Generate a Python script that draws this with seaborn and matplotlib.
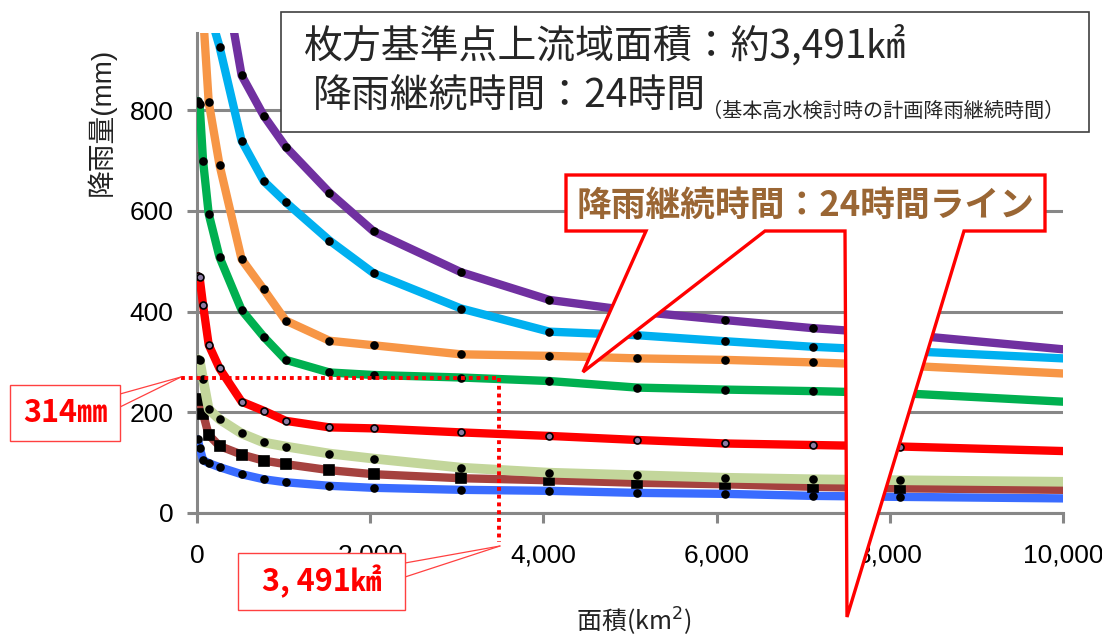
"""
Area-rainfall curves for the Hirakata reference point, with the 24-hour line called out.
"""

import numpy as np
import pandas as pd
import matplotlib
matplotlib.use('Agg')
import matplotlib.pyplot as plt
import seaborn as sns
from matplotlib.patches import Polygon, Rectangle
from matplotlib.lines import Line2D

# Catchment area (km2) of every point on the curves.
area = [10, 30, 70, 135, 260, 515, 770, 1025, 1530, 2040, 3050, 4070, 5080, 6100, 7110, 8120, 10000]

# Rainfall (mm), top curve first.
rain_purple = [1800, 1600, 1450, 1300, 1120, 869, 789, 727, 636, 559, 478, 423, 400, 383, 367, 355, 325]
rain_skyblue = [1300, 1200, 1100, 1000, 926, 739, 659, 617, 541, 476, 406, 360, 353, 341, 330, 322, 307]
rain_orange = [1200, 1100, 990, 816, 691, 504, 444, 382, 342, 333, 315, 312, 307, 304, 299, 293, 277]
rain_green = [818, 812, 699, 594, 508, 403, 350, 304, 279, 274, 269, 262, 249, 245, 242, 238, 221]
rain_red = [470, 468, 413, 334, 287, 221, 203, 183, 170, 168, 160, 153, 145, 138, 135, 132, 123]
rain_palegreen = [305, 304, 266, 206, 186, 158, 140, 132, 118, 108, 90, 80, 75, 70, 67, 65, 62]
rain_brown = [226, 225, 197, 155, 133, 116, 104, 97, 85, 77, 69, 65, 60, 57, 52, 49, 46]
rain_blue = [146, 130, 105, 99, 91, 77, 67, 61, 54, 50, 46, 44, 40, 38, 34, 32, 29]

x_ticks = [0, 2000, 4000, 6000, 8000, 10000]
x_tick_labels = ['0', '2,000', '4,000', '6,000', '8,000', '10,000']
y_ticks = [0, 200, 400, 600, 800]

# Point picked out on the 24-hour curve.
target_area = 3491
target_rain = 268

W, H = 1102, 638


def fx(x):
    return x / W


def fy(y):
    return 1 - y / H


sns.set_style('white')
plt.rcParams['font.family'] = ['Noto Sans CJK JP', 'DejaVu Sans']
num_font = ['Liberation Sans Narrow', 'Liberation Sans', 'DejaVu Sans']
label_font = ['Liberation Sans', 'Noto Sans CJK JP']

fig = plt.figure(figsize=(W / 100, H / 100), dpi=100)
ax = fig.add_axes([fx(197), fy(513), fx(1063) - fx(197), fy(33) - fy(513)])

# One call per curve so each can keep its own marker look.
curves = [
    (rain_blue, '#3A6CFF', 'o', 'black', 5, 6),
    (rain_brown, '#A5423F', 's', 'black', 6.5, 6),
    (rain_palegreen, '#C3D69B', 'o', 'black', 5, 7),
    (rain_red, '#FF0000', 'o', '#8C7BA3', 5, 6),
    (rain_green, '#00B050', 'o', 'black', 5, 6),
    (rain_orange, '#F79646', 'o', 'black', 5, 6),
    (rain_skyblue, '#00B0F0', 'o', 'black', 5, 6),
    (rain_purple, '#7030A0', 'o', 'black', 5, 6),
]
for values, colour, mk, face, ms, lw in curves:
    df = pd.DataFrame({'area': area, 'rain': values})
    sns.lineplot(data=df, x='area', y='rain', ax=ax, color=colour, linewidth=lw,
                 marker=mk, markersize=ms, markerfacecolor=face, markeredgecolor='black',
                 markeredgewidth=1.2, markevery=slice(0, len(area) - 1), zorder=3)

ax.set_xlim(0, 10000)
ax.set_ylim(0, 953)
ax.set_xticks(x_ticks)
ax.set_xticklabels(x_tick_labels)
ax.set_yticks(y_ticks)
ax.set_xlabel('')
ax.set_ylabel('')

grid_col = '#878787'
ax.yaxis.grid(True, color=grid_col, linewidth=2.2)
ax.xaxis.grid(False)
for side in ['top', 'right']:
    ax.spines[side].set_visible(False)
ax.spines['left'].set_color(grid_col)
ax.spines['left'].set_linewidth(2.2)
ax.spines['bottom'].set_color(grid_col)
ax.spines['bottom'].set_linewidth(2.2)
ax.tick_params(axis='both', which='major', direction='out', length=7, width=2.2,
               color=grid_col, labelsize=19, labelcolor='black')
ax.tick_params(axis='x', pad=15, bottom=True)
ax.tick_params(axis='y', pad=10, left=True)
for lbl in ax.get_xticklabels() + ax.get_yticklabels():
    lbl.set_family(num_font)

# Red dotted guide lines to the picked point.
dot = dict(color='red', linewidth=2.8, linestyle=(0, (1, 1)), dash_capstyle='butt',
           clip_on=False, zorder=5)
ax.plot([-185, target_area], [target_rain, target_rain], **dot)
ax.plot([target_area, target_area], [target_rain, -57], **dot)

# Axis titles; the top of the y title is cut off in the source.
fig.text(fx(101), fy(196), '降雨量(mm)', rotation=90, ha='center', va='bottom',
         fontsize=20, family=label_font, color='#222222', zorder=3)
fig.patches.append(Rectangle((fx(70), fy(33)), fx(60), fy(0) - fy(33),
                             transform=fig.transFigure, facecolor='white',
                             edgecolor='none', zorder=4))
fig.text(fx(634), fy(606), '面積(km$^2$)', ha='center', va='top', fontsize=18, color='#222222')

# Title box.
fig.patches.append(Rectangle((fx(281), fy(132)), fx(1089) - fx(281), fy(12) - fy(132),
                             transform=fig.transFigure, facecolor='white',
                             edgecolor='#404040', linewidth=1.2, zorder=6))
fig.text(fx(304), fy(46), '枚方基準点上流域面積：約3,491㎢', ha='left', va='center',
         fontsize=28, zorder=7)
fig.text(fx(313), fy(96), '降雨継続時間：24時間', ha='left', va='center', fontsize=28, zorder=7)
fig.text(fx(702), fy(111), '（基本高水検討時の計画降雨継続時間）', ha='left', va='center',
         fontsize=14.5, zorder=7)

# Callout naming the 24-hour line, with its two pointers.
bubble = [(566, 175), (1045, 175), (1045, 231), (964, 231), (847, 617), (845, 231),
          (765, 231), (583, 372), (646, 231), (566, 231)]
fig.patches.append(Polygon([(fx(x), fy(y)) for x, y in bubble], closed=True,
                           transform=fig.transFigure, facecolor='white',
                           edgecolor='red', linewidth=2.4, joinstyle='miter', zorder=6))
fig.text(fx(806), fy(205), '降雨継続時間：24時間ライン', ha='center', va='center',
         fontsize=25, fontweight='bold', color='#9A6634', zorder=7)


# Small red value boxes.
def value_box(x0, y0, x1, y1, tip, starts, label, size):
    fig.patches.append(Rectangle((fx(x0), fy(y1)), fx(x1) - fx(x0), fy(y0) - fy(y1),
                                 transform=fig.transFigure, facecolor='white',
                                 edgecolor='#FF4040', linewidth=1.0, zorder=6))
    for sx, sy in starts:
        fig.lines.append(Line2D([fx(sx), fx(tip[0])], [fy(sy), fy(tip[1])],
                                transform=fig.transFigure, color='#FF4040',
                                linewidth=0.9, zorder=6))
    fig.text(fx((x0 + x1) / 2), fy((y0 + y1) / 2), label, ha='center', va='center',
             fontsize=size, fontweight='bold', color='red', zorder=7)


value_box(10, 385, 120, 441, (181, 377), [(120, 394), (120, 407)], '314㎜', 22)
value_box(238, 553, 405, 610, (500, 546), [(405, 563), (405, 577)], '3, 491㎢', 22)

fig.savefig('out.png', dpi=100)
